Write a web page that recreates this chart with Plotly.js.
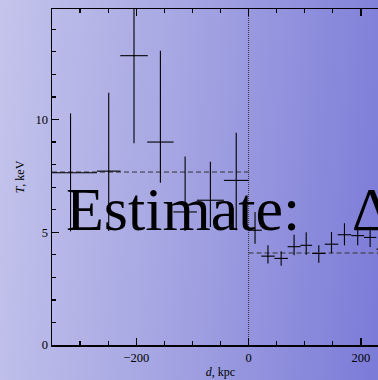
<!DOCTYPE html>
<html><head><meta charset="utf-8">
<script src="https://cdn.plot.ly/plotly-3.0.1.min.js"></script>
<style>
html,body{margin:0;padding:0;width:378px;height:380px;overflow:hidden;}
html{background:linear-gradient(95deg,#c4c4ec 0%,#a6a6e3 45%,#7b7bd8 100%);}
body{background:transparent;}
#chart{width:400px;height:380px;}
</style></head><body><div id="chart"></div>
<script>
// Left side (d < 0)
const leftD    = [-317, -249, -204, -157, -113, -68, -22];
const leftT    = [7.64, 7.71, 12.83, 9.0, 5.9, 6.42, 7.3];
const leftDerr = [47, 21, 24.5, 23.5, 21, 24, 22];
const leftTup  = [2.63, 3.48, 3.9, 4.05, 2.46, 1.71, 2.11];
const leftTdn  = [2.6, 2.66, 3.88, 1.8, 0.85, 1.19, 2.21];
// Right side (d > 0)
const rightD    = [11.5, 34.5, 58, 81, 102.6, 125, 147.6, 170.7, 194.3, 216.4, 239];
const rightT    = [5.09, 3.94, 3.84, 4.36, 4.42, 4.06, 4.47, 4.89, 4.85, 4.77, 4.25];
const rightDerr = [12, 12, 12, 11.5, 10.5, 12, 12, 12, 11.5, 11, 11];
const rightTup  = [0.81, 0.48, 0.32, 0.53, 0.58, 0.36, 0.54, 0.51, 0.39, 0.47, 0.4];
const rightTdn  = [0.6, 0.33, 0.33, 0.38, 0.42, 0.41, 0.4, 0.47, 0.43, 0.42, 0.4];
// Mean levels
const meanLeftX  = [-350, 0];
const meanLeftT  = [7.67, 7.67];
const meanRightX = [0, 260];
const meanRightT = [4.08, 4.08];
const zeroX = [0, 0];
const zeroY = [0, 15];
const annText = "Estimate:\u2002\u2005\u200AΔ";

const serif = "'Liberation Serif', 'Times New Roman', serif";
function errTrace(x, y, ex, eu, ed){
  return {
    type:'scatter', mode:'markers', x:x, y:y,
    marker:{size:1, color:'#000'},
    error_x:{type:'data', array:ex, symmetric:true, color:'#000', thickness:1.1, width:0},
    error_y:{type:'data', array:eu, arrayminus:ed, symmetric:false, color:'#000', thickness:1.1, width:0},
    hoverinfo:'skip', showlegend:false
  };
}
const data = [
  {type:'scatter', mode:'lines', x:meanLeftX, y:meanLeftT, line:{color:'#333', width:1, dash:'5px,3px'}, showlegend:false},
  {type:'scatter', mode:'lines', x:meanRightX, y:meanRightT, line:{color:'#333', width:1, dash:'5px,3px'}, showlegend:false},
  {type:'scatter', mode:'lines', x:zeroX, y:zeroY, line:{color:'#333', width:1, dash:'1px,1px'}, showlegend:false},
  errTrace(leftD, leftT, leftDerr, leftTup, leftTdn),
  errTrace(rightD, rightT, rightDerr, rightTup, rightTdn)
];
const layout = {
  width:400, height:380,
  margin:{l:52, r:10.5, t:9, b:35},
  paper_bgcolor:'rgba(0,0,0,0)', plot_bgcolor:'rgba(0,0,0,0)',
  font:{family:serif, size:12.5, color:'#000'},
  showlegend:false,
  xaxis:{
    range:[-350, 250], dtick:200, tick0:0,
    ticks:'inside', ticklen:7, tickwidth:1.2, tickcolor:'#000',
    minor:{dtick:50, ticks:'inside', ticklen:4, tickwidth:1.2, tickcolor:'#000'},
    showline:true, linecolor:'#000', linewidth:1.5, mirror:'ticks',
    showgrid:false, zeroline:false,
    tickfont:{family:serif, size:12.5},
    title:{text:'<i>d</i>, kpc', font:{family:serif, size:12}, standoff:4}
  },
  yaxis:{
    range:[0, 14.9], dtick:5, tick0:0,
    ticks:'inside', ticklen:7, tickwidth:1.2, tickcolor:'#000',
    minor:{dtick:1, ticks:'inside', ticklen:4, tickwidth:1.2, tickcolor:'#000'},
    showline:true, linecolor:'#000', linewidth:1.5, mirror:'ticks',
    showgrid:false, zeroline:false,
    tickfont:{family:serif, size:12.5},
    title:{text:'<i>T</i>, keV', font:{family:serif, size:12}, standoff:8}
  },
  annotations:[{
    xref:'paper', yref:'paper', x:0.035, y:0.298, xanchor:'left', yanchor:'bottom',
    text:annText, showarrow:false, font:{family:serif, size:62, color:'#000'}
  }]
};
Plotly.newPlot('chart', data, layout, {displayModeBar:false, staticPlot:true});
</script></body></html>
